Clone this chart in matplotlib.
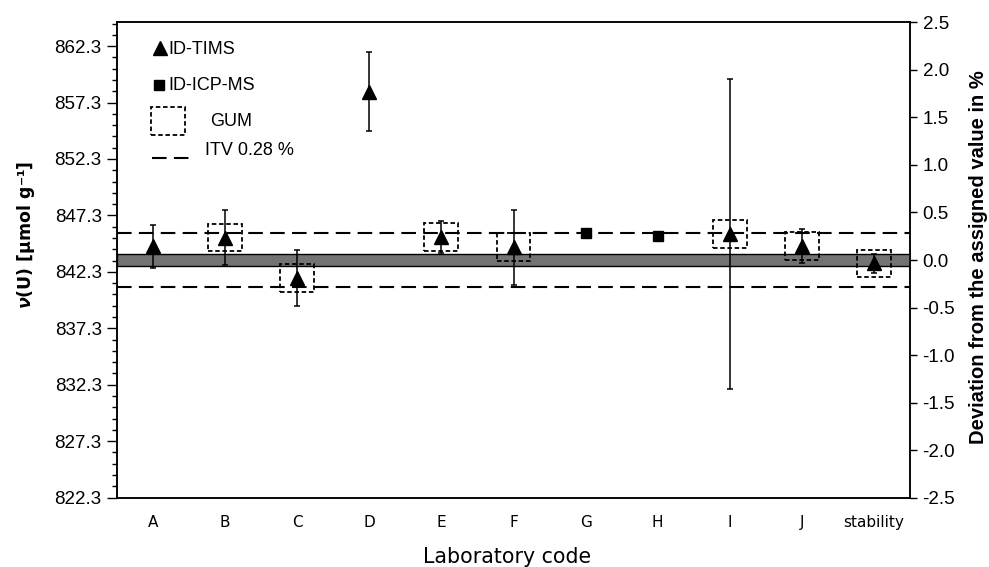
import matplotlib
matplotlib.use('Agg')
import matplotlib.pyplot as plt
from matplotlib.patches import Rectangle
from matplotlib.ticker import FixedLocator, FormatStrFormatter
from matplotlib.lines import Line2D
import numpy as np

plt.rcParams['font.family'] = ['Liberation Sans', 'DejaVu Sans']
plt.rcParams['mathtext.fontset'] = 'custom'
plt.rcParams['mathtext.rm'] = 'DejaVu Sans:bold'
plt.rcParams['mathtext.it'] = 'DejaVu Sans:bold:italic'
plt.rcParams['mathtext.bf'] = 'DejaVu Sans:bold'

# ---- data ----
labs = ['A', 'B', 'C', 'D', 'E', 'F', 'G', 'H', 'I', 'J', 'stability']
method = ['ID-TIMS', 'ID-TIMS', 'ID-TIMS', 'ID-TIMS', 'ID-TIMS', 'ID-TIMS',
          'ID-ICP-MS', 'ID-ICP-MS', 'ID-TIMS', 'ID-TIMS', 'ID-TIMS']
deviation_pct = [0.145, 0.235, -0.19, 1.765, 0.24, 0.135, 0.287, 0.255, 0.275, 0.147, -0.035]
uncertainty_pct = [0.225, 0.285, 0.295, 0.415, 0.17, 0.395, 0.0, 0.0, 1.625, 0.18, 0.098]
gum = [False, True, True, False, True, True, False, False, True, True, True]
assigned_value = 843.35      # µmol/g
assigned_unc_pct = 0.065     # half-width of grey band
itv_pct = 0.28
left_ticks = [822.3, 827.3, 832.3, 837.3, 842.3, 847.3, 852.3, 857.3, 862.3]
right_ticks = [-2.5, -2.0, -1.5, -1.0, -0.5, 0.0, 0.5, 1.0, 1.5, 2.0, 2.5]

W, H = 989, 567
fig = plt.figure(figsize=(W / 100, H / 100), dpi=100)
L, R, T, B = 117, 910, 22, 498
ax = fig.add_axes([L / W, (H - B) / H, (R - L) / W, (B - T) / H])
ax2 = ax.twinx()

x = np.arange(len(labs))
ax.set_xlim(-0.5, len(labs) - 0.5)
ax.set_ylim(assigned_value * (1 - 0.025), assigned_value * (1 + 0.025))
ax2.set_ylim(-2.5, 2.5)

fs = 13
ax.yaxis.set_major_locator(FixedLocator(left_ticks))
ax.yaxis.set_major_formatter(FormatStrFormatter('%.1f'))
ax.yaxis.set_minor_locator(FixedLocator(np.arange(822.3, 864.5, 1.0)))
ax.tick_params(axis='y', which='major', length=7, width=1, labelsize=13.5, pad=4, direction='out')
ax.tick_params(axis='y', which='minor', length=3.5, width=1, direction='out')
ax.set_xticks(x)
ax.set_xticklabels(labs, family='DejaVu Sans', fontsize=11)
ax.tick_params(axis='x', length=0, pad=12.5)

ax2.yaxis.set_major_locator(FixedLocator(right_ticks))
ax2.yaxis.set_major_formatter(FormatStrFormatter('%.1f'))
ax2.tick_params(axis='y', which='major', length=5, width=1, labelsize=13.5, pad=4, direction='out')

for a in (ax, ax2):
    for s in a.spines.values():
        s.set_linewidth(1.1)
        s.set_color('black')

# grey band for assigned value
ax2.axhspan(-assigned_unc_pct, assigned_unc_pct, facecolor='#737373', edgecolor='black', lw=1.0, zorder=1)
# ITV lines
for v in (itv_pct, -itv_pct):
    ln = ax2.axhline(v, color='black', lw=1.5, zorder=2)
    ln.set_dashes((7, 3.5))

# GUM boxes
bw, bh = 0.47, 0.29
for xi, d, g in zip(x, deviation_pct, gum):
    if g:
        ax2.add_patch(Rectangle((xi - bw / 2, d - bh / 2), bw, bh, fill=False,
                                edgecolor='black', lw=1.3, linestyle=(0, (2.5, 1.5)), zorder=3))

# data
for xi, d, u, m in zip(x, deviation_pct, uncertainty_pct, method):
    mk = '^' if m == 'ID-TIMS' else 's'
    ms = 10.5 if m == 'ID-TIMS' else 7.5
    if u > 0:
        ax2.errorbar(xi, d, yerr=u, fmt='none', ecolor='black', elinewidth=1.1,
                     capsize=2.5, capthick=1.1, zorder=4)
    ax2.plot(xi, d, marker=mk, ms=ms, color='black', ls='none', zorder=5)

# manual legend (axes coordinates)
def axc(px, py):
    return ((px - L) / (R - L), (B - py) / (B - T))

tx = axc(168, 49)
ax2.plot(*axc(160, 48), marker='^', ms=10, color='black', transform=ax2.transAxes, clip_on=False)
ax2.text(tx[0], tx[1], 'ID-TIMS', transform=ax2.transAxes, fontsize=fs, va='center', ha='left')
ax2.plot(*axc(159, 85), marker='s', ms=7.5, color='black', transform=ax2.transAxes, clip_on=False)
t2 = axc(168, 85)
ax2.text(t2[0], t2[1], 'ID-ICP-MS', transform=ax2.transAxes, fontsize=fs, va='center', ha='left')
x0, y0 = axc(151, 135)
x1, y1 = axc(185, 107)
ax2.add_patch(Rectangle((x0, y0), x1 - x0, y1 - y0, transform=ax2.transAxes, fill=False,
                        edgecolor='black', lw=1.3, linestyle=(0, (2.5, 1.5))))
t3 = axc(210, 121)
ax2.text(t3[0], t3[1], 'GUM', transform=ax2.transAxes, fontsize=fs, va='center', ha='left')
lx0, ly = axc(152, 158)
lx1, _ = axc(195, 158)
lg = Line2D([lx0, lx1], [ly, ly], transform=ax2.transAxes, color='black', lw=1.5)
lg.set_dashes((7, 3.5))
ax2.add_line(lg)
t4 = axc(205, 150)
ax2.text(t4[0], t4[1], 'ITV 0.28 %', transform=ax2.transAxes, fontsize=fs, va='center', ha='left')

# axis labels
fig.text(507 / W, 1 - 557 / H, 'Laboratory code', fontsize=14.8, family='DejaVu Sans',
         ha='center', va='center')
fig.text(26.5 / W, 1 - 235 / H, r'$\mathit{\nu}$(U) [µmol g⁻¹]', fontsize=12.5,
         fontweight='bold', family='DejaVu Sans', rotation=90, ha='center', va='center')
fig.text(978 / W, 1 - 257 / H, 'Deviation from the assigned value in %', fontsize=14.5,
         fontweight='bold', rotation=90, ha='center', va='center')

fig.savefig('out.png', dpi=100)
